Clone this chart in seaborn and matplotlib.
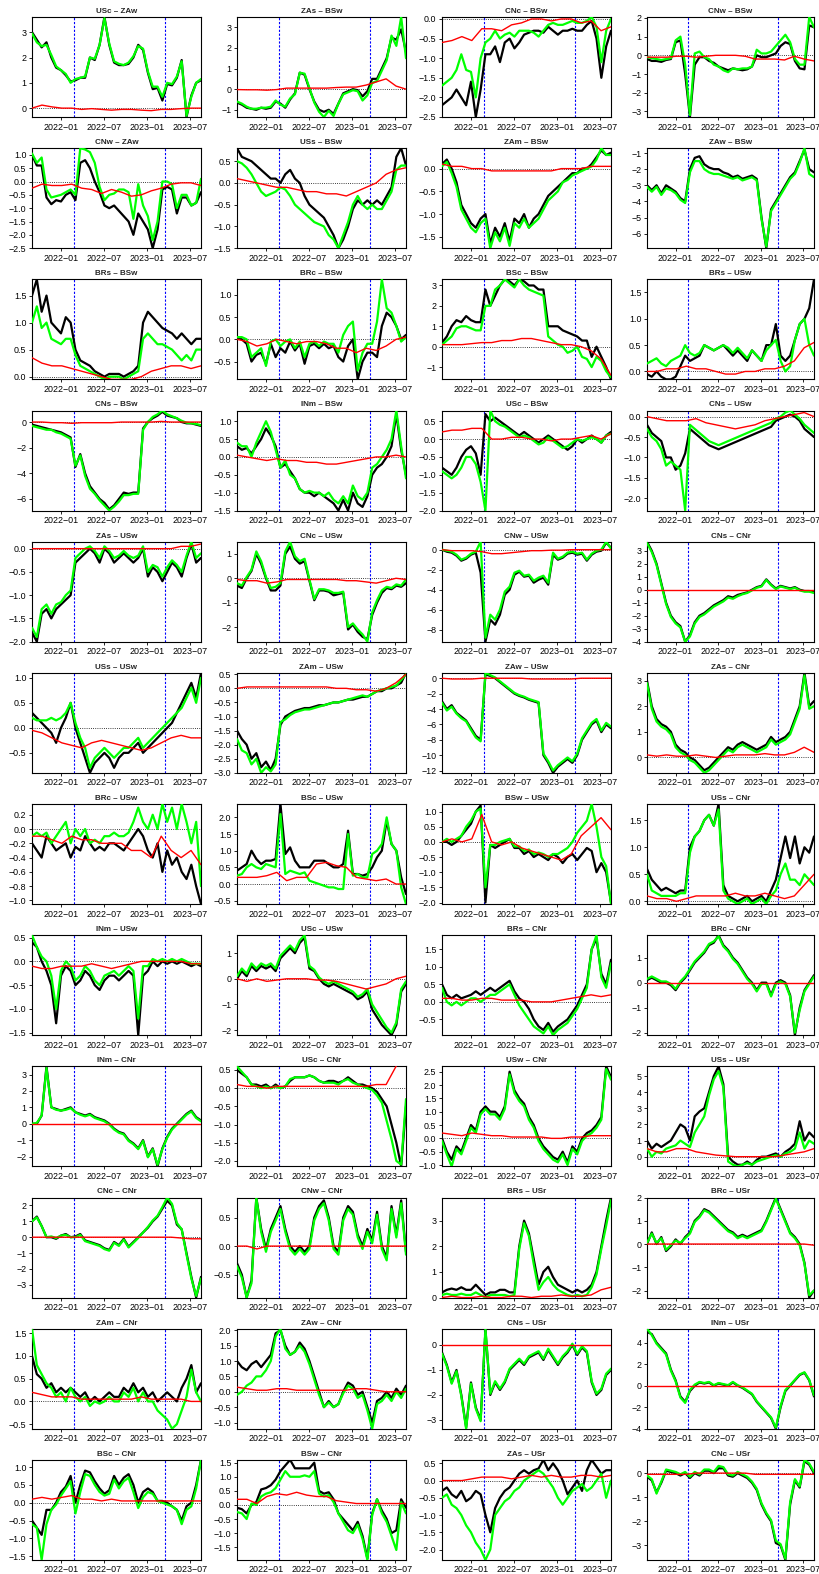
import numpy as np
import pandas as pd
import matplotlib
matplotlib.use("Agg")
import matplotlib.pyplot as plt
import seaborn as sns

sns.set_style("ticks")
plt.rcParams["font.family"] = ["Liberation Sans", "DejaVu Sans"]

# ---------------------------------------------------------------- time axis
START = pd.Timestamp("2021-09-01")
END = pd.Timestamp("2023-08-15")
event_dates = pd.to_datetime(["2022-02-24", "2023-03-16"])
x_ticks = pd.to_datetime(["2022-01-01", "2022-07-01", "2023-01-01", "2023-07-01"])
x_tick_labels = ["2022\u221201", "2022\u221207", "2023\u221201", "2023\u221207"]

titles = [
    "USc \u2013 ZAw", "ZAs \u2013 BSw", "CNc \u2013 BSw", "CNw \u2013 BSw",
    "CNw \u2013 ZAw", "USs \u2013 BSw", "ZAm \u2013 BSw", "ZAw \u2013 BSw",
    "BRs \u2013 BSw", "BRc \u2013 BSw", "BSc \u2013 BSw", "BRs \u2013 USw",
    "CNs \u2013 BSw", "INm \u2013 BSw", "USc \u2013 BSw", "CNs \u2013 USw",
    "ZAs \u2013 USw", "CNc \u2013 USw", "CNw \u2013 USw", "CNs \u2013 CNr",
    "USs \u2013 USw", "ZAm \u2013 USw", "ZAw \u2013 USw", "ZAs \u2013 CNr",
    "BRc \u2013 USw", "BSc \u2013 USw", "BSw \u2013 USw", "USs \u2013 CNr",
    "INm \u2013 USw", "USc \u2013 USw", "BRs \u2013 CNr", "BRc \u2013 CNr",
    "INm \u2013 CNr", "USc \u2013 CNr", "USw \u2013 CNr", "USs \u2013 USr",
    "CNc \u2013 CNr", "CNw \u2013 CNr", "BRs \u2013 USr", "BRc \u2013 USr",
    "ZAm \u2013 CNr", "ZAw \u2013 CNr", "CNs \u2013 USr", "INm \u2013 USr",
    "BSc \u2013 CNr", "BSw \u2013 CNr", "ZAs \u2013 USr", "CNc \u2013 USr",
]

# ---------------------------------------------------------------- series
# black / green: 36 evenly spaced observations; red: 18 observations
blk01 = [3.0,2.7,2.4,2.6,2.0,1.6, 1.5,1.3,1.05,1.1,1.2,1.2, 2.0,1.9,2.5,3.6,2.5,1.8, 1.7,1.7,1.75,2.0,2.5,2.3, 1.4,0.75,0.8,0.3,0.95,0.9, 1.2,1.9,-0.35,0.5,1.0,1.1]
grn01 = [2.95,2.6,2.45,2.5,2.1,1.65, 1.5,1.35,1.0,1.15,1.2,1.25, 2.0,1.95,2.5,3.55,2.55,1.85, 1.75,1.7,1.8,2.05,2.45,2.35, 1.45,0.85,0.85,0.45,1.0,0.95, 1.25,1.85,-0.3,0.45,1.0,1.15]
red01 = [0.0,0.12,0.05, 0.0,0.0,-0.05, -0.02,-0.05,-0.08, -0.05,-0.05,-0.08, -0.1,-0.05,-0.05, -0.02,0.0,0.0]

blk02 = [-0.65,-0.75,-0.9,-0.95,-1.0,-0.9, -0.95,-0.9,-0.6,-0.7,-0.9,-0.5, -0.2,0.8,0.7,0.0,-0.6,-1.0, -1.1,-1.0,-1.2,-0.7,-0.2,-0.1, 0.0,-0.05,-0.35,-0.1,0.5,0.5, 1.0,1.5,2.5,2.4,2.9,1.8]
grn02 = [-0.6,-0.7,-0.85,-0.95,-0.95,-0.9, -0.9,-0.85,-0.55,-0.75,-0.85,-0.45, -0.25,0.8,0.75,0.05,-0.65,-1.1, -1.35,-1.05,-1.3,-0.7,-0.25,-0.15, -0.05,-0.1,-0.55,-0.3,0.3,0.4, 0.9,1.4,2.6,2.1,3.5,1.5]
red02 = [-0.02,-0.03,-0.03, -0.05,-0.02,0.05, 0.05,0.05,0.05, 0.05,0.08,0.1, 0.1,0.2,0.35, 0.5,0.15,0.0]

blk03 = [-2.2,-2.1,-2.0,-1.8,-2.0,-2.2, -1.6,-2.5,-1.8,-0.9,-0.9,-0.7, -1.1,-0.6,-0.5,-0.75,-0.6,-0.4, -0.35,-0.3,-0.3,-0.35,-0.2,-0.3, -0.4,-0.3,-0.3,-0.25,-0.3,-0.3, -0.15,-0.05,-0.5,-1.5,-0.7,-0.3]
grn03 = [-1.7,-1.6,-1.5,-1.3,-0.9,-1.3, -1.35,-2.0,-1.0,-0.6,-0.5,-0.3, -0.5,-0.4,-0.35,-0.45,-0.3,-0.3, -0.3,-0.35,-0.45,-0.3,-0.15,-0.1, -0.15,-0.15,-0.1,-0.05,-0.1,-0.1, -0.05,0.05,-0.2,-1.1,-0.3,0.0]
red03 = [-0.6,-0.55,-0.45, -0.55,-0.25,-0.25, -0.3,-0.15,-0.1, 0.0,0.0,-0.05, 0.0,0.0,-0.1, -0.05,-0.3,-0.2]

blk04 = [-0.2,-0.3,-0.3,-0.35,-0.25,-0.2, 0.7,0.8,-1.0,-3.3,-0.5,-0.1, -0.1,-0.3,-0.4,-0.6,-0.7,-0.8, -0.7,-0.75,-0.8,-0.75,-0.6,0.0, -0.1,-0.1,0.0,0.1,0.5,0.7, 0.6,-0.3,-0.7,-0.75,1.6,1.5]
grn04 = [-0.1,-0.15,-0.2,-0.25,-0.2,-0.15, 0.8,1.0,-0.5,-3.2,0.1,0.2, -0.1,-0.2,-0.5,-0.6,-0.8,-0.9, -0.7,-0.75,-0.7,-0.7,-0.6,0.3, 0.1,0.1,0.2,0.5,0.8,1.1, 0.7,-0.2,-0.5,-0.5,2.05,1.5]
red04 = [-0.1,-0.1,-0.1, -0.05,-0.05,-0.1, -0.05,0.0,0.0, 0.0,-0.05,-0.2, -0.2,-0.2,-0.25, -0.05,-0.2,-0.3]

blk05 = [1.0,0.6,0.6,-0.6,-0.85,-0.7, -0.75,-0.5,-0.4,-0.7,0.7,0.8, 0.5,0.0,-0.4,-0.9,-1.0,-0.9, -1.1,-1.3,-1.5,-2.0,-1.2,-1.5, -1.8,-2.5,-1.8,-0.3,-0.2,-0.3, -1.2,-0.6,-0.6,-0.9,-0.8,-0.4]
grn05 = [1.05,0.7,0.9,-0.3,-0.6,-0.55, -0.5,-0.4,-0.3,-0.5,1.25,1.2, 1.1,0.7,-0.2,-0.7,-0.5,-0.45, -0.3,-0.3,-0.4,-1.4,-0.1,-0.9, -1.3,-2.2,-1.5,0.0,0.0,-0.1, -1.0,-0.5,-0.5,-0.9,-0.8,0.1]
red05 = [-0.25,-0.1,-0.15, -0.15,-0.1,-0.25, -0.3,-0.45,-0.3, -0.4,-0.55,-0.5, -0.35,-0.25,-0.1, -0.05,-0.05,-0.15]

blk06 = [0.8,0.6,0.55,0.5,0.4,0.3, 0.2,0.1,0.1,0.0,0.2,0.3, 0.1,0.0,-0.3,-0.5,-0.6,-0.7, -0.8,-1.0,-1.2,-1.5,-1.3,-1.0, -0.6,-0.4,-0.5,-0.4,-0.5,-0.4, -0.5,-0.3,-0.1,0.6,0.8,0.4]
grn06 = [0.5,0.45,0.35,0.2,0.0,-0.2, -0.3,-0.25,-0.2,-0.1,-0.15,-0.3, -0.5,-0.6,-0.7,-0.8,-0.9,-0.95, -1.0,-1.2,-1.3,-1.5,-1.2,-0.9, -0.5,-0.3,-0.5,-0.6,-0.5,-0.6, -0.6,-0.4,-0.2,0.3,0.4,0.4]
red06 = [0.1,0.05,0.0, -0.05,-0.1,-0.1, -0.15,-0.2,-0.2, -0.25,-0.25,-0.3, -0.2,-0.1,0.0, 0.2,0.3,0.35]

blk07 = [0.1,0.2,0.0,-0.3,-0.8,-1.0, -1.2,-1.3,-1.1,-1.0,-1.65,-1.3, -1.5,-1.2,-1.6,-1.1,-1.2,-1.0, -1.3,-1.1,-1.0,-0.8,-0.6,-0.5, -0.4,-0.3,-0.2,-0.1,-0.1,0.0, 0.0,0.1,0.25,0.4,0.3,0.35]
grn07 = [0.05,0.15,-0.1,-0.4,-0.9,-1.1, -1.3,-1.4,-1.2,-1.1,-1.75,-1.4, -1.6,-1.3,-1.7,-1.2,-1.3,-1.1, -1.3,-1.2,-1.1,-0.9,-0.7,-0.6, -0.5,-0.3,-0.25,-0.15,-0.1,-0.05, 0.0,0.05,0.2,0.45,0.3,0.3]
red07 = [0.1,0.05,0.05, 0.0,0.0,-0.05, -0.05,-0.05,-0.05, -0.05,-0.05,-0.05, 0.0,0.0,0.0, 0.05,0.05,0.05]

blk08 = [-3.0,-3.3,-3.0,-3.5,-3.0,-3.2, -3.4,-3.8,-4.0,-2.0,-1.3,-1.2, -1.7,-1.9,-2.0,-2.0,-2.2,-2.3, -2.5,-2.4,-2.6,-2.5,-2.4,-2.6, -5.0,-6.9,-4.5,-4.0,-3.5,-3.0, -2.5,-2.2,-1.5,-0.8,-2.0,-2.2]
grn08 = [-3.1,-3.4,-3.1,-3.6,-3.2,-3.3, -3.5,-3.9,-4.1,-2.2,-1.5,-1.5, -2.0,-2.2,-2.3,-2.3,-2.4,-2.5, -2.6,-2.5,-2.7,-2.6,-2.5,-2.7, -5.1,-6.8,-4.6,-4.1,-3.6,-3.1, -2.6,-2.3,-1.6,-0.7,-2.3,-2.5]
red08 = [0.0,0.0,0.0, 0.0,0.05,0.0, 0.0,0.0,0.0, 0.0,0.0,0.0, 0.0,0.0,0.0, 0.0,0.0,0.0]

blk09 = [1.5,1.8,1.2,1.5,1.0,0.9, 0.8,1.1,1.0,0.5,0.3,0.25, 0.2,0.1,0.05,0.0,0.05,0.05, 0.05,0.0,0.05,0.1,0.2,1.0, 1.2,1.1,1.0,0.9,0.85,0.8, 0.7,0.8,0.7,0.6,0.7,0.7]
grn09 = [1.0,1.3,0.9,1.0,0.7,0.65, 0.6,0.7,0.7,0.4,0.2,0.15, 0.1,0.05,0.0,-0.05,0.0,0.0, 0.0,-0.05,0.0,0.05,0.1,0.7, 0.8,0.7,0.6,0.6,0.55,0.5, 0.4,0.3,0.4,0.3,0.5,0.5]
red09 = [0.35,0.25,0.2, 0.2,0.15,0.1, 0.05,0.0,-0.05, -0.05,-0.05,0.0, 0.1,0.15,0.2, 0.2,0.15,0.2]

blk10 = [0.05,0.0,-0.1,-0.5,-0.35,-0.3, -0.55,-0.1,-0.4,-0.2,-0.3,-0.05, -0.25,-0.1,-0.55,-0.15,-0.1,-0.2, -0.1,-0.2,-0.15,-0.4,-0.5,-0.15, 0.0,-0.9,-0.5,-0.3,-0.3,-0.4, 0.3,0.6,0.5,0.3,0.0,0.1]
grn10 = [0.05,0.05,0.0,-0.4,-0.3,-0.2, -0.6,-0.05,0.0,-0.15,-0.05,0.0, -0.2,-0.05,-0.4,-0.1,-0.05,-0.15, -0.05,-0.1,-0.1,-0.3,0.1,0.3, 0.4,-0.7,-0.3,-0.1,-0.1,0.4, 1.35,0.7,0.6,0.3,-0.05,0.05]
red10 = [0.0,-0.05,-0.15, -0.1,0.0,-0.05, -0.1,-0.05,-0.05, -0.1,-0.2,-0.2, -0.3,-0.2,-0.25, -0.15,0.0,0.05]

blk11 = [0.2,0.5,1.0,1.3,1.2,1.5, 1.3,1.2,1.2,2.8,2.0,2.5, 3.0,3.3,3.2,3.0,3.3,3.2, 3.0,3.0,2.8,2.8,1.0,1.0, 1.0,0.8,0.7,0.6,0.5,0.3, 0.3,-0.5,0.0,-0.5,-1.0,-1.6]
grn11 = [0.1,0.3,0.5,0.9,1.0,1.0, 0.9,0.8,0.8,2.0,2.0,2.8, 3.0,3.3,3.1,2.9,3.3,3.0, 2.8,2.7,2.6,2.5,0.5,0.3, 0.1,0.0,-0.3,-0.2,0.0,-0.5, -0.6,-1.0,-0.5,-0.7,-1.2,-1.5]
red11 = [0.1,0.1,0.1, 0.15,0.2,0.2, 0.3,0.3,0.4, 0.4,0.3,0.2, 0.1,0.1,0.0, -0.2,-0.6,-1.4]

blk12 = [-0.05,-0.1,0.0,-0.1,-0.15,-0.15, -0.1,0.1,0.3,0.2,0.25,0.3, 0.5,0.45,0.4,0.45,0.5,0.4, 0.3,0.4,0.3,0.2,0.4,0.3, 0.2,0.5,0.5,0.9,0.3,0.2, 0.3,0.6,0.9,1.0,1.2,1.75]
grn12 = [0.15,0.2,0.25,0.15,0.1,0.2, 0.25,0.3,0.5,0.35,0.3,0.35, 0.5,0.45,0.4,0.45,0.5,0.45, 0.35,0.45,0.35,0.25,0.4,0.3, 0.2,0.4,0.5,0.6,0.2,0.0, 0.1,0.6,0.9,1.0,0.5,0.3]
red12 = [0.0,0.0,0.05, 0.05,0.1,0.05, 0.05,0.0,-0.05, -0.05,0.0,0.0, 0.05,0.05,0.1, 0.2,0.45,0.55]

blk13 = [-0.2,-0.3,-0.4,-0.5,-0.6,-0.7, -0.8,-1.0,-1.2,-3.5,-2.5,-4.0, -5.0,-5.5,-6.0,-6.3,-6.8,-6.5, -6.0,-5.5,-5.6,-5.5,-5.5,-0.5, 0.0,0.3,0.5,0.8,0.5,0.4, 0.3,0.0,-0.1,-0.1,-0.2,-0.3]
grn13 = [-0.3,-0.4,-0.5,-0.6,-0.6,-0.8, -0.9,-1.1,-1.3,-3.4,-2.6,-4.2, -5.2,-5.6,-6.1,-6.5,-6.9,-6.6, -6.2,-5.7,-5.7,-5.6,-5.6,-0.6, 0.0,0.4,0.6,0.9,0.6,0.45, 0.3,0.1,-0.05,-0.1,-0.15,-0.25]
red13 = [0.0,0.0,-0.05, -0.05,-0.1,-0.05, -0.05,-0.05,-0.05, 0.0,0.0,0.0, 0.0,0.05,0.0, 0.0,0.0,0.0]

blk14 = [0.3,0.2,0.25,0.1,0.3,0.5, 0.8,0.6,0.3,-0.3,-0.2,-0.4, -0.6,-0.9,-1.0,-1.0,-1.1,-1.0, -1.1,-1.2,-1.3,-1.5,-1.2,-1.5, -1.0,-1.3,-1.4,-1.1,-0.5,-0.3, -0.2,0.0,0.3,1.2,0.2,-0.5]
grn14 = [0.4,0.3,0.3,0.0,0.4,0.7, 1.0,0.7,0.2,-0.3,-0.1,-0.5, -0.6,-0.9,-1.0,-0.95,-1.0,-1.0, -1.1,-1.0,-1.2,-1.3,-1.1,-1.3, -0.8,-1.1,-1.2,-1.0,-0.3,-0.2, 0.0,0.2,0.5,1.3,0.3,-0.6]
red14 = [0.05,0.0,-0.05, -0.1,-0.05,-0.1, -0.1,-0.15,-0.15, -0.2,-0.2,-0.15, -0.1,-0.05,0.0, 0.0,0.05,0.0]

blk15 = [-0.8,-0.9,-1.0,-0.8,-0.5,-0.3, -0.2,-0.4,-1.0,0.7,0.5,0.6, 0.5,0.4,0.3,0.2,0.1,0.2, 0.1,0.0,-0.1,0.0,0.1,0.0, -0.1,-0.2,-0.3,-0.2,0.0,-0.1, 0.0,0.1,0.0,-0.1,0.1,0.2]
grn15 = [-0.9,-1.0,-1.1,-1.0,-0.8,-0.5, -0.5,-0.7,-1.2,-2.0,0.8,0.5, 0.4,0.35,0.25,0.15,0.05,0.1, 0.05,-0.05,-0.15,-0.1,0.05,-0.05, -0.15,-0.25,-0.2,-0.1,0.0,-0.05, 0.0,0.05,0.0,-0.1,0.1,0.15]
red15 = [0.2,0.25,0.25, 0.3,0.3,0.0, 0.0,0.05,0.05, 0.0,0.0,-0.05, 0.0,0.0,0.05, 0.1,0.0,0.15]

blk16 = [-0.2,-0.4,-0.5,-0.6,-1.0,-1.0, -1.3,-1.2,-0.9,-0.3,-0.4,-0.5, -0.6,-0.7,-0.75,-0.8,-0.75,-0.7, -0.65,-0.6,-0.55,-0.5,-0.45,-0.4, -0.35,-0.3,-0.25,-0.1,-0.05,0.0, 0.05,0.0,-0.1,-0.3,-0.4,-0.5]
grn16 = [-0.3,-0.5,-0.6,-0.8,-1.2,-1.1, -1.2,-1.3,-2.3,-0.2,-0.3,-0.4, -0.5,-0.6,-0.65,-0.7,-0.65,-0.6, -0.55,-0.5,-0.45,-0.4,-0.35,-0.3, -0.25,-0.2,-0.15,-0.05,0.0,0.1, 0.15,0.05,-0.05,-0.2,-0.3,-0.4]
red16 = [0.0,-0.05,-0.1, -0.1,-0.1,-0.05, -0.15,-0.2,-0.25, -0.3,-0.25,-0.2, -0.1,-0.05,0.0, 0.05,0.1,0.0]

blk17 = [-1.8,-2.0,-1.4,-1.3,-1.5,-1.3, -1.2,-1.1,-1.0,-0.3,-0.2,-0.1, 0.0,-0.1,-0.3,0.0,-0.1,-0.3, -0.2,-0.1,-0.2,-0.3,-0.2,0.0, -0.6,-0.4,-0.5,-0.7,-0.5,-0.3, -0.4,-0.6,-0.2,0.1,-0.3,-0.2]
grn17 = [-1.7,-1.9,-1.3,-1.2,-1.4,-1.2, -1.15,-1.0,-0.9,-0.2,-0.1,0.0, 0.05,-0.05,-0.2,0.05,-0.05,-0.2, -0.15,-0.05,-0.15,-0.2,-0.15,0.05, -0.5,-0.35,-0.4,-0.6,-0.4,-0.25, -0.35,-0.5,-0.15,0.15,-0.2,-0.1]
red17 = [0.0,0.0,0.0, 0.0,0.0,0.0, 0.0,0.0,0.0, 0.0,0.0,0.0, 0.0,0.0,0.0, 0.05,0.05,0.1]

blk18 = [-0.3,-0.4,0.0,0.3,1.0,0.6, 0.0,-0.5,-0.5,-0.3,1.0,1.3, 0.8,0.6,0.7,-0.1,-0.9,-0.5, -0.5,-0.55,-0.7,-0.65,-0.6,-2.1, -1.9,-2.2,-2.4,-2.5,-1.5,-1.0, -0.6,-0.4,-0.45,-0.3,-0.35,-0.2]
grn18 = [-0.2,-0.3,0.05,0.35,1.1,0.7, 0.05,-0.4,-0.35,-0.2,1.1,1.5, 0.9,0.7,0.8,-0.05,-0.85,-0.45, -0.45,-0.5,-0.6,-0.6,-0.55,-2.0, -1.85,-2.1,-2.3,-2.6,-1.4,-0.9, -0.5,-0.35,-0.4,-0.25,-0.3,-0.05]
red18 = [-0.05,-0.1,-0.1, -0.2,-0.15,-0.05, -0.05,-0.05,-0.05, -0.05,-0.05,-0.1, -0.1,-0.15,-0.2, -0.1,0.0,-0.05]

blk19 = [0.0,-0.2,-0.3,-0.6,-1.1,-0.9, -0.5,-0.3,-2.3,-9.2,-7.0,-7.5, -6.5,-4.5,-4.0,-2.5,-2.2,-2.7, -2.6,-3.3,-3.0,-2.8,-3.5,-0.5, -1.0,-0.8,-0.4,-0.3,-0.5,-0.4, -1.1,-0.5,-0.2,-0.1,0.7,0.2]
grn19 = [0.0,-0.1,-0.2,-0.5,-1.0,-0.8, -0.4,-0.2,0.8,-8.8,-6.5,-7.0, -6.0,-4.2,-3.7,-2.3,-2.1,-2.6, -2.5,-3.1,-2.8,-2.6,-3.3,-0.3, -0.9,-0.7,-0.3,-0.2,-0.4,-0.3, -1.0,-0.4,-0.1,0.0,0.8,0.1]
red19 = [0.0,-0.1,-0.1, -0.1,-0.2,-0.4, -0.4,-0.3,-0.2, -0.1,-0.1,-0.05, -0.05,0.0,0.0, 0.0,0.0,0.0]

blk20 = [3.7,3.0,2.0,0.5,-1.0,-2.0, -2.5,-2.8,-4.0,-3.5,-2.5,-2.0, -1.8,-1.5,-1.2,-1.0,-0.8,-0.5, -0.6,-0.4,-0.3,-0.2,0.0,0.2, 0.3,0.8,0.4,0.1,0.3,0.2, 0.1,0.2,0.0,-0.1,-0.1,-0.2]
grn20 = [3.6,2.9,1.9,0.4,-1.1,-2.1, -2.6,-2.9,-4.0,-3.6,-2.6,-2.1, -1.9,-1.6,-1.3,-1.1,-0.9,-0.6, -0.7,-0.5,-0.35,-0.25,-0.05,0.15, 0.25,0.75,0.35,0.05,0.25,0.15, 0.05,0.15,-0.05,-0.15,-0.15,-0.25]
red20 = [0.0,0.0,0.0, 0.0,0.0,0.0, 0.0,0.0,0.0, 0.0,0.0,0.0, 0.0,0.0,0.0, 0.0,0.0,0.0]

blk21 = [0.3,0.2,0.1,0.0,-0.1,-0.3, 0.0,0.2,0.5,0.0,-0.3,-0.6, -0.9,-0.7,-0.6,-0.5,-0.6,-0.8, -0.6,-0.5,-0.5,-0.4,-0.3,-0.5, -0.4,-0.3,-0.2,-0.1,0.0,0.1, 0.3,0.5,0.7,0.9,0.6,1.1]
grn21 = [0.2,0.15,0.15,0.15,0.2,0.15, 0.2,0.3,0.5,0.1,-0.2,-0.4, -0.8,-0.6,-0.5,-0.4,-0.5,-0.6, -0.5,-0.4,-0.4,-0.3,-0.2,-0.4, -0.3,-0.2,-0.1,0.0,0.1,0.2, 0.3,0.4,0.6,0.8,0.5,1.0]
red21 = [-0.05,-0.1,-0.2, -0.3,-0.35,-0.4, -0.3,-0.25,-0.3, -0.35,-0.4,-0.45, -0.4,-0.3,-0.2, -0.15,-0.2,-0.2]

blk22 = [-1.5,-1.8,-2.0,-2.5,-2.3,-2.8, -2.6,-2.9,-2.5,-1.3,-1.0,-0.9, -0.8,-0.75,-0.7,-0.7,-0.65,-0.6, -0.6,-0.55,-0.5,-0.5,-0.45,-0.4, -0.4,-0.35,-0.3,-0.3,-0.2,-0.1, -0.1,0.0,0.0,0.1,0.2,0.55]
grn22 = [-1.8,-2.2,-2.3,-2.7,-2.5,-3.0, -2.8,-2.95,-2.7,-1.2,-1.1,-0.95, -0.85,-0.8,-0.75,-0.75,-0.7,-0.65, -0.6,-0.55,-0.5,-0.5,-0.45,-0.4, -0.35,-0.3,-0.25,-0.3,-0.2,-0.1, -0.05,0.0,0.05,0.1,0.3,0.5]
red22 = [0.0,0.05,0.05, 0.05,0.05,0.05, 0.05,0.05,0.05, 0.05,0.0,0.0, -0.05,-0.05,-0.1, 0.0,0.2,0.5]

blk23 = [-3.0,-4.0,-3.5,-4.5,-5.0,-5.5, -6.5,-7.5,-8.0,0.5,0.3,0.0, -0.5,-1.0,-1.5,-2.0,-2.3,-2.5, -2.8,-3.0,-3.2,-10.0,-11.0,-12.3, -11.5,-11.0,-10.5,-11.0,-10.0,-8.0, -7.0,-6.0,-5.5,-7.0,-6.0,-6.5]
grn23 = [-3.2,-4.2,-3.7,-4.6,-5.2,-5.6, -6.7,-7.7,-8.2,0.7,0.4,0.1, -0.4,-0.9,-1.4,-1.9,-2.2,-2.4, -2.7,-2.9,-3.1,-9.8,-10.8,-12.0, -11.3,-10.8,-10.3,-10.8,-9.8,-7.8, -6.8,-5.8,-5.3,-6.8,-5.8,-6.3]
red23 = [0.0,-0.1,-0.1, -0.1,0.0,0.0, 0.0,0.0,0.0, -0.1,-0.1,-0.1, -0.1,-0.1,0.0, 0.0,0.0,0.0]

blk24 = [3.0,2.0,1.5,1.3,1.2,1.0, 0.5,0.3,0.2,0.0,-0.1,-0.3, -0.5,-0.4,-0.2,0.0,0.2,0.4, 0.3,0.5,0.6,0.5,0.4,0.3, 0.4,0.5,0.8,0.6,0.7,0.8, 1.0,1.5,2.0,3.3,2.0,2.2]
grn24 = [2.9,1.9,1.4,1.2,1.1,0.9, 0.4,0.2,0.1,-0.1,-0.2,-0.4, -0.6,-0.5,-0.3,-0.1,0.1,0.3, 0.2,0.4,0.5,0.4,0.3,0.2, 0.3,0.4,0.7,0.5,0.6,0.7, 0.9,1.4,1.9,3.2,1.9,2.0]
red24 = [0.1,0.05,0.1, 0.05,0.05,0.1, 0.05,0.0,0.05, 0.1,0.1,0.1, 0.15,0.1,0.1, 0.2,0.4,0.2]

blk25 = [-0.2,-0.3,-0.4,-0.1,-0.2,-0.3, -0.25,-0.2,-0.4,-0.25,-0.3,-0.1, -0.2,-0.3,-0.25,-0.3,-0.2,-0.2, -0.25,-0.3,-0.2,-0.1,0.0,-0.1, -0.3,-0.4,-0.2,-0.6,-0.3,-0.5, -0.4,-0.6,-0.7,-0.5,-0.8,-1.05]
grn25 = [-0.1,-0.05,-0.1,-0.05,-0.2,-0.1, 0.0,0.1,-0.2,0.0,-0.1,0.0, -0.2,-0.15,-0.2,-0.1,-0.1,-0.05, -0.1,-0.1,-0.05,0.1,0.3,0.1, 0.0,0.2,0.0,0.35,0.1,0.3, 0.0,0.35,0.1,-0.2,0.1,-0.8]
red25 = [-0.1,-0.1,-0.15, -0.2,-0.1,-0.15, -0.15,-0.2,-0.2, -0.2,-0.3,-0.3, -0.4,-0.1,-0.3, -0.4,-0.3,-0.5]

blk26 = [0.4,0.5,0.6,1.0,0.75,0.6, 0.7,0.7,0.75,2.4,0.9,1.1, 0.7,0.5,0.5,0.5,0.7,0.7, 0.7,0.6,0.5,0.5,0.6,1.6, 0.3,0.3,0.25,0.3,0.5,0.8, 1.0,1.9,1.2,1.0,0.2,-0.3]
grn26 = [0.25,0.3,0.5,0.6,0.5,0.45, 0.6,0.55,0.5,2.1,0.3,0.4, 0.35,0.3,0.35,0.1,0.05,0.0, -0.05,-0.1,-0.1,-0.15,-0.15,1.5, 0.25,0.3,0.2,0.2,0.9,1.0, 1.2,2.0,1.2,1.0,-0.1,-0.6]
red26 = [0.2,0.2,0.2, 0.25,0.35,0.1, 0.2,0.2,0.6, 0.65,0.55,0.5, 0.2,0.15,0.1, 0.15,0.0,0.0]

blk27 = [0.0,0.0,-0.1,0.0,0.2,0.4, 0.6,1.0,1.2,-2.0,-0.1,-0.2, -0.1,0.0,0.1,-0.2,-0.2,-0.4, -0.3,-0.5,-0.4,-0.5,-0.6,-0.4, -0.5,-0.7,-0.5,-0.4,-0.6,-0.4, -0.2,-0.3,-1.0,-0.7,-1.0,-2.0]
grn27 = [0.0,0.1,0.0,0.1,0.2,0.5, 0.7,1.0,1.1,-1.5,-0.1,-0.1, 0.0,0.05,0.1,-0.15,-0.15,-0.3, -0.25,-0.4,-0.35,-0.4,-0.5,-0.4, -0.4,-0.3,-0.2,0.0,0.3,0.5, 0.7,1.25,0.5,-0.5,-0.8,-2.05]
red27 = [0.0,0.1,0.0, 0.1,0.9,0.0, -0.1,0.0,-0.2, -0.3,-0.4,-0.5, -0.6,-0.4,0.2, 0.5,0.8,0.4]

blk28 = [0.6,0.4,0.3,0.2,0.25,0.2, 0.15,0.2,0.2,1.0,1.2,1.3, 1.5,1.6,1.4,1.8,0.3,0.1, 0.05,0.0,0.05,0.1,0.0,0.05, 0.1,0.0,0.2,0.4,0.8,1.2, 0.8,1.2,0.7,1.0,0.9,1.2]
grn28 = [0.5,0.2,0.15,0.1,0.1,0.1, 0.1,0.15,0.15,0.9,1.2,1.3, 1.5,1.6,1.4,1.7,0.2,0.05, 0.0,-0.05,0.0,0.05,-0.05,0.0, 0.05,-0.05,0.1,0.2,0.5,0.7, 0.4,0.4,0.3,0.5,0.4,0.3]
red28 = [0.1,0.05,0.05, 0.0,0.05,0.1, 0.1,0.1,0.1, 0.15,0.1,0.1, 0.15,0.1,0.05, 0.1,0.3,0.5]

blk29 = [0.4,0.3,0.0,-0.2,-0.5,-1.3, -0.3,-0.1,-0.2,-0.5,-0.4,-0.2, -0.3,-0.5,-0.6,-0.4,-0.3,-0.3, -0.4,-0.3,-0.2,-0.3,-1.55,-0.3, -0.2,0.0,-0.1,0.0,-0.05,0.0, -0.05,0.0,-0.05,-0.1,-0.05,-0.1]
grn29 = [0.55,0.3,0.1,0.0,-0.3,-1.0, -0.2,0.0,-0.1,-0.4,-0.3,-0.1, -0.2,-0.4,-0.5,-0.3,-0.25,-0.2, -0.3,-0.2,-0.1,-0.2,-1.2,-0.1, -0.1,0.05,0.0,0.05,0.0,0.05, 0.0,0.05,0.0,-0.05,-0.05,-0.05]
red29 = [-0.1,-0.15,-0.15, -0.1,-0.1,-0.1, -0.05,-0.1,-0.15, -0.1,-0.05,0.0, 0.0,0.0,0.0, 0.0,-0.05,-0.05]

blk30 = [0.0,0.3,0.1,0.5,0.3,0.5, 0.4,0.5,0.3,0.8,1.0,1.2, 1.0,1.4,1.6,0.4,0.3,0.0, -0.2,-0.3,-0.2,-0.3,-0.4,-0.5, -0.6,-0.8,-0.7,-0.5,-1.2,-1.5, -1.8,-2.0,-2.2,-1.8,-0.5,-0.2]
grn30 = [0.1,0.4,0.2,0.6,0.4,0.6, 0.5,0.6,0.4,0.9,1.1,1.3, 1.1,1.5,1.7,0.5,0.35,0.05, -0.1,-0.2,-0.1,-0.2,-0.3,-0.4, -0.5,-0.7,-0.6,-0.4,-1.0,-1.3, -1.6,-1.9,-2.1,-1.7,-0.4,-0.1]
red30 = [0.0,-0.1,0.0, -0.1,-0.05,0.0, 0.0,0.0,-0.05, -0.05,-0.1,-0.2, -0.3,-0.4,-0.3, -0.2,0.0,0.1]

blk31 = [0.5,0.2,0.1,0.2,0.1,0.15, 0.2,0.3,0.2,0.3,0.4,0.3, 0.4,0.5,0.6,0.3,0.1,0.0, -0.2,-0.5,-0.7,-0.8,-0.6,-0.85, -0.7,-0.6,-0.5,-0.3,-0.1,0.2, 0.5,1.5,1.8,0.8,0.5,1.2]
grn31 = [0.4,0.0,-0.1,0.0,-0.1,0.0, 0.1,0.1,0.0,0.1,0.2,0.2, 0.3,0.4,0.5,0.2,-0.1,-0.3, -0.5,-0.7,-0.8,-0.9,-0.7,-0.95, -0.8,-0.7,-0.6,-0.4,-0.2,0.1, 0.4,1.5,1.9,0.7,0.4,1.1]
red31 = [0.1,0.1,0.05, 0.05,0.1,0.1, 0.05,0.05,0.05, 0.0,0.0,0.0, 0.05,0.1,0.15, 0.2,0.15,0.2]

blk32 = [0.1,0.2,0.1,0.0,0.0,-0.1, -0.3,0.0,0.2,0.5,0.8,1.0, 1.2,1.5,1.6,1.9,1.5,1.3, 1.0,0.8,0.5,0.2,0.0,-0.3, 0.0,0.0,-0.5,0.0,0.1,0.0, -0.5,-2.1,-1.0,-0.3,0.0,0.3]
grn32 = [0.15,0.25,0.15,0.05,0.05,-0.05, -0.25,0.05,0.25,0.55,0.85,1.05, 1.25,1.55,1.65,1.85,1.45,1.25, 0.95,0.75,0.45,0.15,-0.05,-0.35, -0.05,-0.05,-0.55,-0.05,0.05,-0.05, -0.55,-2.0,-1.1,-0.35,-0.05,0.25]
red32 = [0.0,0.0,0.0, 0.0,0.0,0.0, 0.0,0.0,0.0, 0.0,0.0,0.0, 0.0,0.0,0.0, 0.0,0.0,0.0]

blk33 = [0.0,0.0,0.5,3.5,1.0,0.9, 0.8,0.9,1.0,0.7,0.6,0.5, 0.6,0.4,0.3,0.2,0.0,-0.3, -0.5,-0.6,-1.0,-1.2,-1.5,-1.0, -2.0,-1.5,-2.6,-1.5,-0.8,-0.3, 0.0,0.3,0.6,0.8,0.4,0.2]
grn33 = [0.0,0.05,0.5,3.4,1.0,0.85, 0.8,0.85,0.95,0.7,0.55,0.45, 0.55,0.35,0.25,0.15,-0.05,-0.35, -0.55,-0.65,-1.05,-1.25,-1.55,-1.05, -2.05,-1.55,-2.5,-1.55,-0.85,-0.35, -0.05,0.25,0.55,0.75,0.35,0.15]
red33 = [0.0,0.0,0.0, 0.0,0.0,0.0, 0.0,0.0,0.0, 0.0,0.0,0.0, 0.0,0.0,0.0, 0.0,0.0,0.0]

blk34 = [0.5,0.4,0.3,0.1,0.1,0.05, 0.1,0.0,0.1,0.0,0.05,0.2, 0.3,0.3,0.3,0.35,0.3,0.2, 0.15,0.2,0.2,0.15,0.2,0.3, 0.2,0.1,0.1,0.05,0.0,-0.1, -0.3,-0.5,-1.0,-1.5,-2.15,-0.5]
grn34 = [0.6,0.45,0.3,0.1,0.05,0.0, 0.05,0.0,0.05,0.0,0.05,0.25, 0.3,0.3,0.3,0.35,0.3,0.2, 0.15,0.15,0.15,0.1,0.2,0.25, 0.15,0.1,0.05,0.0,-0.05,-0.2, -0.4,-0.9,-1.4,-2.0,-2.1,-0.3]
red34 = [0.1,0.05,0.05, 0.0,0.05,0.05, 0.05,0.05,0.05, 0.05,0.05,0.05, 0.05,0.05,0.1, 0.1,0.6,1.0]

blk35 = [0.0,-0.5,-0.8,-0.3,-0.5,0.0, 0.5,0.3,1.0,1.2,1.0,1.0, 0.8,1.2,2.5,1.8,1.5,1.3, 0.8,0.5,0.0,-0.3,-0.5,-0.7, -0.8,-0.5,-0.9,-0.3,-0.5,0.0, 0.2,0.3,0.5,0.8,2.7,2.3]
grn35 = [-0.1,-0.6,-1.05,-0.4,-0.6,-0.1, 0.4,0.2,0.9,1.1,0.9,0.9, 0.7,1.1,2.4,1.7,1.4,1.2, 0.7,0.4,-0.1,-0.4,-0.6,-0.8, -0.9,-0.6,-1.0,-0.4,-0.6,-0.1, 0.1,0.2,0.4,0.7,2.6,2.2]
red35 = [0.2,0.15,0.1, 0.2,0.15,0.1, 0.1,0.05,0.05, 0.05,0.05,0.0, 0.0,0.05,0.05, 0.1,0.1,0.1]

blk36 = [1.0,0.5,0.8,0.6,0.8,1.0, 1.5,2.0,1.8,1.0,2.5,2.8, 3.0,4.0,5.0,5.6,4.5,0.0, -0.3,-0.5,-0.5,-0.3,-0.5,-0.2, 0.0,0.0,0.1,0.2,0.0,0.3, 0.5,0.8,2.2,1.0,1.5,1.2]
grn36 = [0.5,0.0,0.3,0.2,0.5,0.6, 0.7,1.0,0.8,0.6,1.5,2.0, 2.5,3.8,4.8,5.3,4.3,-0.3, -0.5,-0.6,-0.5,-0.4,-0.5,-0.3, -0.2,-0.1,0.0,0.1,0.0,0.2, 0.3,0.5,1.5,0.5,1.0,0.8]
red36 = [0.5,0.3,0.3, 0.5,0.5,0.3, 0.2,0.1,0.05, 0.0,0.0,0.0, 0.0,0.0,0.1, 0.2,0.3,0.5]

blk37 = [1.0,1.3,0.7,0.0,0.0,-0.1, 0.1,0.2,0.0,0.05,0.2,-0.2, -0.3,-0.4,-0.5,-0.7,-0.8,-0.3, -0.5,-0.1,-0.6,-0.3,0.0,0.3, 0.6,1.0,1.3,1.8,2.3,2.0, 0.8,0.5,-1.0,-2.5,-3.8,-2.5]
grn37 = [1.0,1.25,0.7,0.0,0.05,-0.05, 0.1,0.15,0.0,0.0,0.15,-0.25, -0.35,-0.45,-0.55,-0.75,-0.85,-0.35, -0.55,-0.15,-0.65,-0.35,-0.05,0.3, 0.65,1.05,1.35,1.9,2.5,2.1, 0.9,0.5,-1.1,-2.6,-3.7,-2.6]
red37 = [0.0,0.0,0.0, 0.0,0.0,0.0, 0.0,0.0,0.0, 0.0,0.0,0.0, 0.0,0.0,0.0, -0.05,-0.1,-0.1]

blk38 = [-0.3,-0.5,-0.9,-0.6,0.85,0.3, -0.05,0.3,0.5,0.7,0.3,0.0, -0.1,0.0,-0.1,0.0,0.5,0.7, 0.8,0.5,0.0,-0.1,0.5,0.7, 0.6,0.2,0.0,0.3,0.1,0.6, 0.0,-0.2,0.7,0.2,0.8,-0.1]
grn38 = [-0.35,-0.55,-0.9,-0.65,0.85,0.25, -0.1,0.25,0.45,0.65,0.25,-0.05, -0.15,-0.05,-0.15,-0.05,0.45,0.65, 0.75,0.45,-0.05,-0.15,0.45,0.65, 0.55,0.15,-0.05,0.25,0.05,0.55, -0.05,-0.25,0.65,0.15,0.75,-0.15]
red38 = [0.0,0.0,-0.05, 0.0,0.0,0.0, 0.0,0.0,0.0, 0.0,0.0,0.0, 0.0,0.0,0.0, 0.0,0.0,0.0]

blk39 = [0.2,0.3,0.35,0.3,0.4,0.3, 0.3,0.5,0.3,0.1,0.2,0.2, 0.3,0.3,0.2,0.2,2.0,3.0, 2.5,1.5,0.5,1.0,1.2,0.8, 0.5,0.4,0.3,0.2,0.3,0.2, 0.3,0.5,1.0,2.0,3.0,3.9]
grn39 = [0.1,0.15,0.1,0.1,0.15,0.1, 0.1,0.2,0.1,0.0,0.1,0.1, 0.1,0.1,0.05,0.1,1.9,2.9, 2.4,1.3,0.3,0.6,0.8,0.5, 0.3,0.2,0.1,0.05,0.1,0.05, 0.1,0.4,0.9,1.9,2.8,3.8]
red39 = [0.0,0.05,0.0, 0.0,0.05,0.0, 0.0,0.05,0.05, 0.0,0.05,0.05, 0.1,0.05,0.05, 0.1,0.3,0.4]

blk40 = [0.0,0.5,0.0,0.3,-0.3,-0.1, 0.2,0.0,0.3,0.5,1.0,1.2, 1.5,1.4,1.2,1.0,0.8,0.6, 0.5,0.3,0.4,0.3,0.4,0.5, 0.6,1.0,1.5,2.0,1.5,1.0, 0.5,0.3,0.0,-0.8,-2.3,-2.0]
grn40 = [0.05,0.45,0.05,0.25,-0.25,-0.05, 0.15,0.05,0.25,0.45,0.95,1.15, 1.45,1.35,1.15,0.95,0.75,0.55, 0.45,0.25,0.35,0.25,0.35,0.45, 0.55,0.95,1.45,1.95,1.45,0.95, 0.45,0.25,-0.05,-0.85,-2.2,-2.0]
red40 = [0.0,0.0,0.0, 0.0,0.0,0.0, 0.0,0.0,0.0, 0.0,0.0,0.0, 0.0,0.0,0.0, 0.0,0.0,-0.05]

blk41 = [1.0,0.6,0.5,0.3,0.4,0.2, 0.3,0.2,0.3,0.2,0.1,0.2, 0.0,0.1,0.0,0.1,0.2,0.1, 0.1,0.3,0.2,0.4,0.2,0.3, 0.1,0.2,0.0,0.1,0.2,0.1, 0.0,0.3,0.5,0.8,0.2,0.4]
grn41 = [1.6,0.8,0.6,0.4,0.3,0.1, 0.2,0.0,0.3,0.1,0.0,0.1, -0.1,0.0,-0.05,0.0,0.1,0.0, 0.0,0.2,0.1,0.3,0.0,0.2, 0.0,0.0,-0.2,-0.3,-0.4,-0.6, -0.5,-0.2,0.1,0.7,0.2,0.0]
red41 = [0.2,0.15,0.1, 0.1,0.1,0.05, 0.05,0.05,0.05, 0.05,0.05,0.1, 0.05,0.05,0.05, 0.05,0.0,0.0]

blk42 = [1.0,0.8,0.7,0.9,1.0,0.8, 1.0,1.2,1.9,2.0,1.5,1.2, 1.3,1.6,1.4,1.0,0.5,0.0, -0.5,-0.3,-0.5,-0.4,0.0,0.3, 0.2,-0.1,0.0,-0.5,-1.0,-0.3, -0.2,0.0,-0.2,0.1,-0.1,0.2]
grn42 = [-0.1,0.0,0.2,0.3,0.5,0.5, 0.7,1.0,1.8,2.05,1.4,1.2, 1.3,1.5,1.3,0.9,0.4,-0.1, -0.5,-0.35,-0.5,-0.4,-0.05,0.2, 0.1,-0.2,-0.1,-0.6,-1.2,-0.4, -0.3,-0.1,-0.3,0.0,-0.2,0.1]
red42 = [0.15,0.1,0.05, 0.05,0.1,0.1, 0.05,0.05,0.05, 0.05,0.05,0.05, 0.1,0.1,0.05, 0.0,0.0,0.0]

blk43 = [-0.3,-0.8,-1.5,-1.0,-2.0,-3.3, -1.5,-2.5,-3.0,0.6,-2.0,-1.5, -1.8,-1.5,-1.0,-0.8,-0.6,-0.8, -0.5,-0.4,-0.3,-0.6,-0.2,-0.5, -0.8,-0.5,-0.3,0.0,-0.4,-0.1, -0.3,-1.5,-2.0,-1.8,-1.2,-1.0]
grn43 = [-0.35,-0.85,-1.55,-1.05,-2.05,-3.35, -1.55,-2.55,-3.05,0.65,-1.95,-1.45, -1.75,-1.45,-0.95,-0.75,-0.55,-0.75, -0.45,-0.35,-0.25,-0.55,-0.15,-0.45, -0.75,-0.45,-0.25,0.05,-0.35,-0.05, -0.25,-1.45,-1.95,-1.75,-1.15,-0.95]
red43 = [0.0,0.0,0.0, 0.0,0.0,0.0, 0.0,0.0,0.0, 0.0,0.0,0.0, 0.0,0.0,0.0, 0.0,0.0,0.0]

blk44 = [5.0,4.8,4.0,3.5,3.0,1.5, 0.5,-1.0,-1.5,-0.5,0.0,0.3, 0.2,0.3,0.0,0.2,0.1,0.0, 0.3,0.0,-0.2,-0.5,-0.8,-1.5, -2.0,-2.5,-3.0,-4.0,-2.0,-0.5, 0.0,0.5,1.0,1.2,0.5,-1.0]
grn44 = [5.3,4.7,3.9,3.4,2.9,1.4, 0.4,-1.1,-1.6,-0.4,0.1,0.35, 0.25,0.35,0.05,0.25,0.15,0.05, 0.35,0.05,-0.15,-0.45,-0.75,-1.45, -1.95,-2.45,-2.95,-3.9,-1.9,-0.4, 0.05,0.55,1.05,1.25,0.55,-0.9]
red44 = [0.0,0.0,0.0, 0.0,0.0,0.0, 0.0,0.0,0.0, 0.0,0.0,0.0, 0.0,0.0,0.0, 0.0,0.0,0.0]

blk45 = [-0.5,-0.7,-0.9,-0.2,-0.2,0.0, 0.3,0.45,0.75,0.0,0.5,0.9, 0.85,0.6,0.4,0.25,0.35,0.75, 0.5,0.7,0.8,0.5,0.0,0.3, 0.4,0.3,0.05,0.05,0.0,-0.1, -0.2,-0.5,-0.1,0.0,0.5,1.2]
grn45 = [-0.6,-0.7,-1.6,-0.6,-0.2,-0.05, 0.2,0.4,0.6,-0.3,0.3,0.8, 0.75,0.5,0.3,0.2,0.25,0.65, 0.4,0.6,0.7,0.3,-0.15,0.15, 0.3,0.25,0.05,0.0,-0.05,-0.1, -0.2,-0.6,-0.2,-0.1,0.4,1.2]
red45 = [0.1,0.15,0.1, 0.15,0.2,0.1, 0.1,0.05,0.1, 0.05,0.05,0.05, 0.05,0.05,0.05, 0.05,0.05,0.05]

blk46 = [-0.1,-0.15,-0.3,0.0,0.1,0.55, 0.6,0.7,0.9,1.2,1.4,1.6, 1.3,1.3,1.3,1.3,1.5,0.5, 0.4,0.45,0.2,-0.3,-0.5,-0.7, -0.9,-0.6,-1.1,-1.9,-0.3,0.2, -0.2,-0.5,-1.0,-0.9,0.2,-0.1]
grn46 = [-0.25,-0.3,-0.5,0.05,0.0,0.3, 0.4,0.45,0.6,0.9,1.2,1.0, 1.0,1.0,1.05,1.0,1.2,0.4, 0.3,0.35,0.1,-0.3,-0.6,-0.9, -1.0,-0.7,-1.2,-1.95,-0.35,0.2, -0.3,-0.6,-1.1,-1.6,0.1,-0.3]
red46 = [0.2,0.2,0.05, 0.3,0.4,0.35, 0.45,0.35,0.3, 0.3,0.15,0.1, 0.05,0.05,0.05, 0.05,0.05,0.05]

blk47 = [-0.3,-0.2,-0.4,-0.5,-0.3,-0.6, -0.5,-0.3,-0.4,-1.0,-1.5,-0.8, -0.5,-0.3,-0.2,0.0,0.2,0.3, 0.2,0.3,0.35,0.6,0.3,0.5, 0.3,0.0,-0.4,-0.2,0.0,-0.3, 0.3,0.6,0.4,0.2,0.3,0.3]
grn47 = [-0.5,-0.4,-0.7,-0.8,-1.0,-1.3, -1.5,-1.8,-2.0,-2.3,-2.0,-1.0, -0.8,-0.6,-0.5,-0.3,-0.2,0.0, 0.1,0.2,0.3,0.2,0.0,-0.2, -0.5,-0.7,-0.5,-0.3,-0.2,-0.1, -0.3,-0.2,0.0,0.2,-0.5,0.0]
red47 = [0.0,0.0,0.0, 0.05,0.1,0.1, 0.1,0.05,0.1, 0.15,0.1,0.15, 0.1,0.1,0.15, 0.15,0.1,0.15]

blk48 = [-0.15,-0.3,-0.8,-0.4,0.1,0.05, 0.0,-0.1,0.0,-0.2,0.0,-0.1, 0.1,0.1,0.0,0.2,0.2,-0.1, -0.15,0.0,-0.1,-0.2,-0.4,-0.7, -1.3,-1.7,-2.0,-2.9,-3.0,-3.6, -1.3,-0.3,-0.6,0.5,0.35,0.0]
grn48 = [-0.1,-0.25,-0.85,-0.35,0.15,0.1, 0.05,-0.05,0.05,-0.15,0.05,-0.05, 0.15,0.15,0.05,0.3,0.25,-0.05, -0.1,0.05,-0.05,-0.15,-0.35,-0.65, -1.25,-1.65,-1.95,-2.8,-2.95,-3.55, -1.2,-0.25,-0.55,0.55,0.4,0.05]
red48 = [-0.05,-0.05,-0.05, -0.05,-0.05,0.0, 0.0,0.0,0.0, 0.0,0.0,-0.05, -0.05,-0.05,-0.05, -0.05,-0.05,-0.05]

black_lines = [blk01, blk02, blk03, blk04, blk05, blk06, blk07, blk08, blk09, blk10, blk11, blk12,
               blk13, blk14, blk15, blk16, blk17, blk18, blk19, blk20, blk21, blk22, blk23, blk24,
               blk25, blk26, blk27, blk28, blk29, blk30, blk31, blk32, blk33, blk34, blk35, blk36,
               blk37, blk38, blk39, blk40, blk41, blk42, blk43, blk44, blk45, blk46, blk47, blk48]
green_lines = [grn01, grn02, grn03, grn04, grn05, grn06, grn07, grn08, grn09, grn10, grn11, grn12,
               grn13, grn14, grn15, grn16, grn17, grn18, grn19, grn20, grn21, grn22, grn23, grn24,
               grn25, grn26, grn27, grn28, grn29, grn30, grn31, grn32, grn33, grn34, grn35, grn36,
               grn37, grn38, grn39, grn40, grn41, grn42, grn43, grn44, grn45, grn46, grn47, grn48]
red_lines = [red01, red02, red03, red04, red05, red06, red07, red08, red09, red10, red11, red12,
             red13, red14, red15, red16, red17, red18, red19, red20, red21, red22, red23, red24,
             red25, red26, red27, red28, red29, red30, red31, red32, red33, red34, red35, red36,
             red37, red38, red39, red40, red41, red42, red43, red44, red45, red46, red47, red48]


def pretty_ticks(lo, hi, n=5, h=0.8, h5=1.7):
    """Axis tick positions following R's pretty() rule for axes."""
    cell = (hi - lo) / n
    base = 10 ** np.floor(np.log10(cell))
    unit = base
    if 2 * base - cell < h * (cell - unit):
        unit = 2 * base
        if 5 * base - cell < h5 * (cell - unit):
            unit = 5 * base
            if 10 * base - cell < h * (cell - unit):
                unit = 10 * base
    first = np.ceil(lo / unit - 1e-9) * unit
    ticks = np.arange(first, hi + unit * 1e-9, unit)
    decimals = max(0, int(-np.floor(np.log10(unit) + 1e-9)))
    labels = []
    for t in ticks:
        s = f"{t:.{decimals}f}"
        if float(s) == 0:
            s = f"{0:.{decimals}f}"
        labels.append(s.replace("-", "\u2212"))
    return ticks, labels


W, H = 820, 1574
fig = plt.figure(figsize=(W / 100, H / 100), dpi=100)

for k in range(48):
    r, c = divmod(k, 4)
    left = 32 + 205 * c
    width = 169 if c < 3 else 167
    top = 17 + r * 131.17
    ax = fig.add_axes([left / W, 1 - (top + 100) / H, width / W, 100 / H])

    blk, grn, red = black_lines[k], green_lines[k], red_lines[k]
    d_main = pd.date_range(START, END, periods=len(blk))
    d_red = pd.date_range(START, END, periods=len(red))

    ax.axhline(0, color="black", lw=0.6, ls=(0, (1, 1.6)), zorder=1)
    for ev in event_dates:
        ax.axvline(ev, color="blue", lw=0.8, ls=(0, (2, 1.5)), zorder=1)

    sns.lineplot(x=d_main, y=blk, color="black", lw=1.6, ax=ax, zorder=2)
    sns.lineplot(x=d_main, y=grn, color="#00FF00", lw=1.6, ax=ax, zorder=3)
    sns.lineplot(x=d_red, y=red, color="#FF0000", lw=1.0, ax=ax, zorder=4)

    lo = min(min(blk), min(grn))
    hi = max(max(blk), max(grn))
    ax.set_xlim(START, END)
    ax.set_ylim(lo, hi)

    ax.set_xticks(x_ticks)
    ax.set_xticklabels(x_tick_labels)
    yt, yl = pretty_ticks(lo, hi)
    ax.set_yticks(yt)
    ax.set_yticklabels(yl)

    ax.tick_params(axis="both", labelsize=6.4, length=2.5, width=0.6, pad=1.5,
                   direction="out", colors="black")
    for sp in ax.spines.values():
        sp.set_visible(True)
        sp.set_linewidth(0.8)
        sp.set_color("black")
    ax.set_xlabel("")
    ax.set_ylabel("")
    ax.set_title(titles[k], fontsize=5.8, fontweight="bold", pad=3)

fig.savefig("out.png", dpi=100)
